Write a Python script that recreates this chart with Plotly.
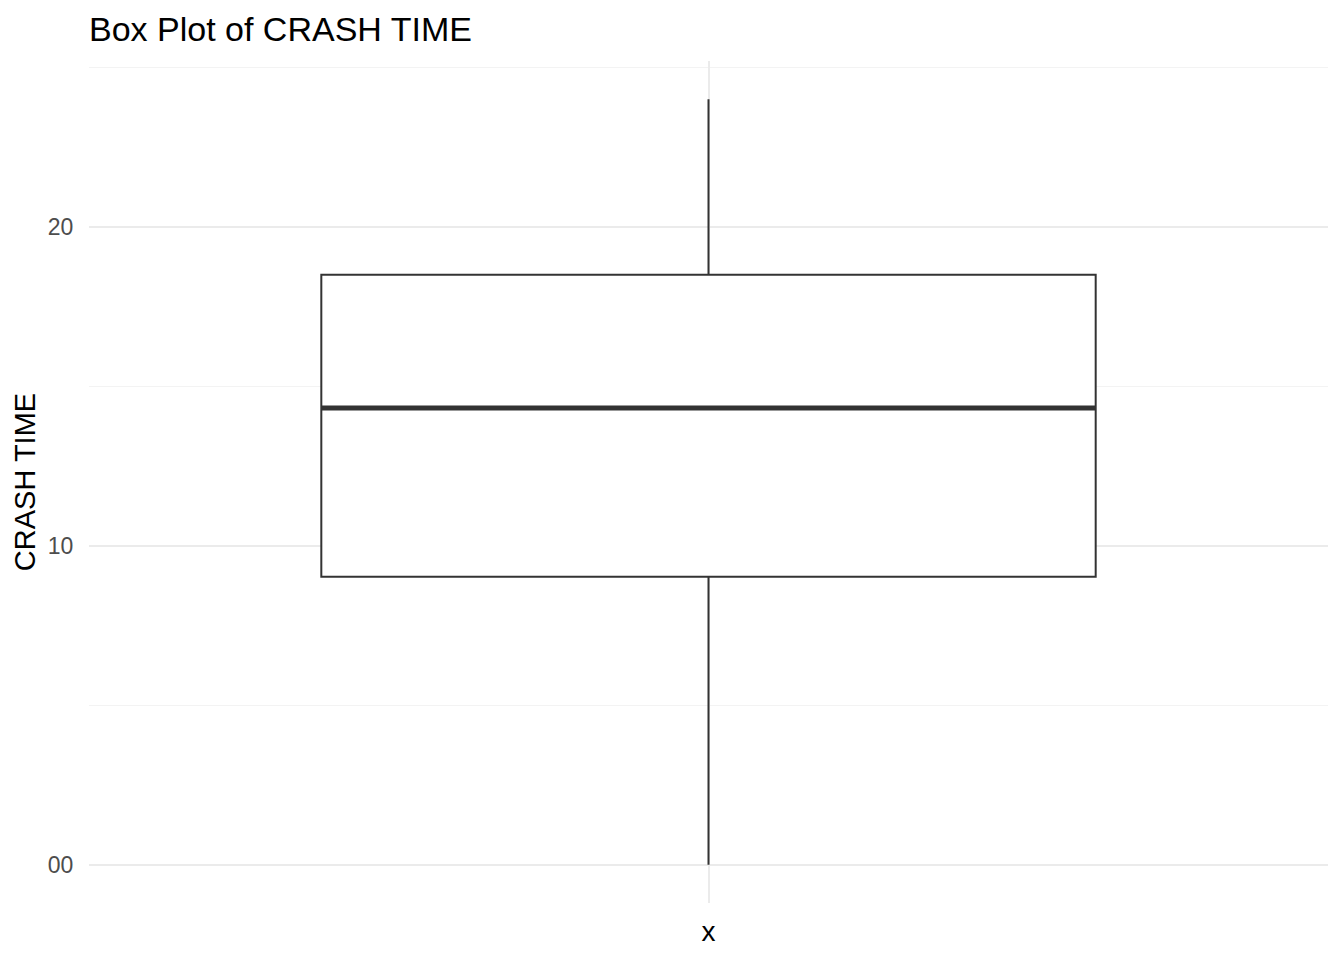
import plotly.graph_objects as go

# Data
category = ["x"]
q1_vals = [9.03]
median_vals = [14.32]
q3_vals = [18.5]
lower_vals = [0.0]
upper_vals = [24.0]

y_tick_vals = [0, 10, 20]
y_tick_text = ["00", "10", "20"]

pos = [1]
box_width = 0.75

fig = go.Figure()
fig.add_trace(go.Box(
    x=pos,
    q1=q1_vals, median=median_vals, q3=q3_vals,
    lowerfence=lower_vals, upperfence=upper_vals,
    width=box_width,
    whiskerwidth=0,
    fillcolor="white",
    line=dict(color="#333333", width=2),
    boxpoints=False,
    hoverinfo="skip",
    showlegend=False,
))
# thicker median line, as in ggplot
for p, m in zip(pos, median_vals):
    fig.add_trace(go.Scatter(
        x=[p - box_width / 2, p + box_width / 2], y=[m, m],
        mode="lines", line=dict(color="#333333", width=5),
        hoverinfo="skip", showlegend=False,
    ))

W, H = 1328, 944
fig.update_layout(
    width=W, height=H,
    paper_bgcolor="white", plot_bgcolor="white",
    margin=dict(l=81, r=8, t=53, b=49),
    font=dict(family="Liberation Sans, Arial, sans-serif", color="black"),
    title=dict(text="Box Plot of CRASH TIME", x=81/W, xanchor="left", xref="container",
               y=1 - 21/H, yanchor="middle", yref="container",
               font=dict(size=34, color="black")),
    xaxis=dict(
        range=[0.4, 1.6], tickvals=pos, ticktext=[""],
        showgrid=True, gridcolor="#EBEBEB", gridwidth=2, zeroline=False,
        showline=False, ticks="",
        title=dict(text=category[0], font=dict(size=28, color="black"), standoff=18),
    ),
    yaxis=dict(
        range=[-1.2, 25.2], tickvals=y_tick_vals, ticktext=y_tick_text,
        showgrid=True, gridcolor="#EBEBEB", gridwidth=2, zeroline=False,
        showline=False, ticks="outside", ticklen=10, tickcolor="rgba(0,0,0,0)",
        tickfont=dict(size=23, color="#4D4D4D"),
        minor=dict(dtick=5, tick0=0, showgrid=True, gridcolor="#F3F3F3", gridwidth=1),
        title=dict(text="CRASH TIME", font=dict(size=29, color="black"), standoff=3),
    ),
)

fig.write_html("out.html", config={"displayModeBar": False})
